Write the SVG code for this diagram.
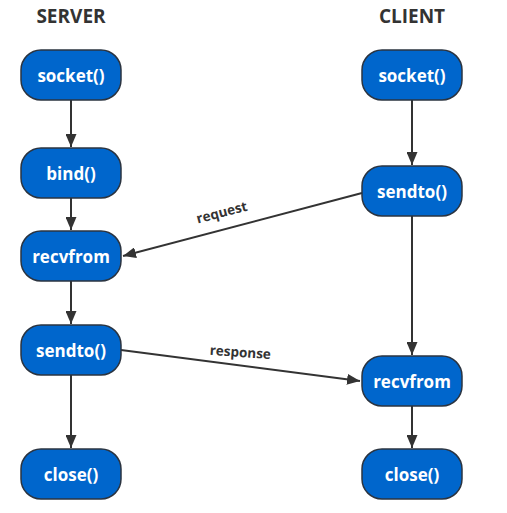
<svg xmlns="http://www.w3.org/2000/svg" width="507" height="513" viewBox="0 0 507 513">
<style>
.node rect{fill:#0066cc;stroke:#2b3440;stroke-width:1.5}
.node text{fill:#fff;font-family:"Open Sans","Noto Sans",sans-serif;font-weight:bold;font-size:17px;text-anchor:middle;dominant-baseline:central}
.title{fill:#333;font-family:"Open Sans","Noto Sans",sans-serif;font-weight:bold;font-size:19px;text-anchor:middle}
.edge{stroke:#333;stroke-width:2;fill:none;marker-end:url(#arr)}
.lbl{fill:#333;font-family:"Open Sans","Noto Sans",sans-serif;font-weight:bold;font-size:13.5px;text-anchor:middle}
</style>
<defs>
<marker id="arr" viewBox="0 0 10 10" refX="10" refY="5" markerWidth="13" markerHeight="11" markerUnits="userSpaceOnUse" orient="auto" preserveAspectRatio="none">
<path d="M0,0 L10,5 L0,10 z" fill="#333"/>
</marker>
</defs>
<rect width="507" height="513" fill="#fff"/>
<text class="title" x="71" y="23">SERVER</text>
<text class="title" x="412" y="23">CLIENT</text>
<g id="connectors">
<line class="edge" x1="71" y1="100" x2="71" y2="147"/>
<line class="edge" x1="71" y1="198" x2="71" y2="230"/>
<line class="edge" x1="71" y1="281" x2="71" y2="324"/>
<line class="edge" x1="71" y1="375" x2="71" y2="448"/>
<line class="edge" x1="412" y1="100" x2="412" y2="165"/>
<line class="edge" x1="412" y1="216" x2="412" y2="355"/>
<line class="edge" x1="412" y1="406" x2="412" y2="448"/>
<line class="edge" x1="362" y1="193" x2="123" y2="256"/>
<line class="edge" x1="121" y1="350" x2="360" y2="381"/>
<text class="lbl" transform="translate(223,217) rotate(-14.7)">request</text>
<text class="lbl" transform="translate(240,357) rotate(4)">response</text>
</g>
<g id="s_socket" class="node"><rect x="21" y="50" width="100" height="50" rx="20"/><text x="71" y="75">socket()</text></g>
<g id="s_bind" class="node"><rect x="21" y="148" width="100" height="50" rx="20"/><text x="71" y="173">bind()</text></g>
<g id="s_recvfrom" class="node"><rect x="21" y="231" width="100" height="50" rx="20"/><text x="71" y="256">recvfrom</text></g>
<g id="s_sendto" class="node"><rect x="21" y="325" width="100" height="50" rx="20"/><text x="71" y="350">sendto()</text></g>
<g id="s_close" class="node"><rect x="21" y="449" width="100" height="50" rx="20"/><text x="71" y="474">close()</text></g>
<g id="c_socket" class="node"><rect x="362" y="50" width="100" height="50" rx="20"/><text x="412" y="75">socket()</text></g>
<g id="c_sendto" class="node"><rect x="362" y="166" width="100" height="50" rx="20"/><text x="412" y="191">sendto()</text></g>
<g id="c_recvfrom" class="node"><rect x="362" y="356" width="100" height="50" rx="20"/><text x="412" y="381">recvfrom</text></g>
<g id="c_close" class="node"><rect x="362" y="449" width="100" height="50" rx="20"/><text x="412" y="474">close()</text></g>
</svg>
